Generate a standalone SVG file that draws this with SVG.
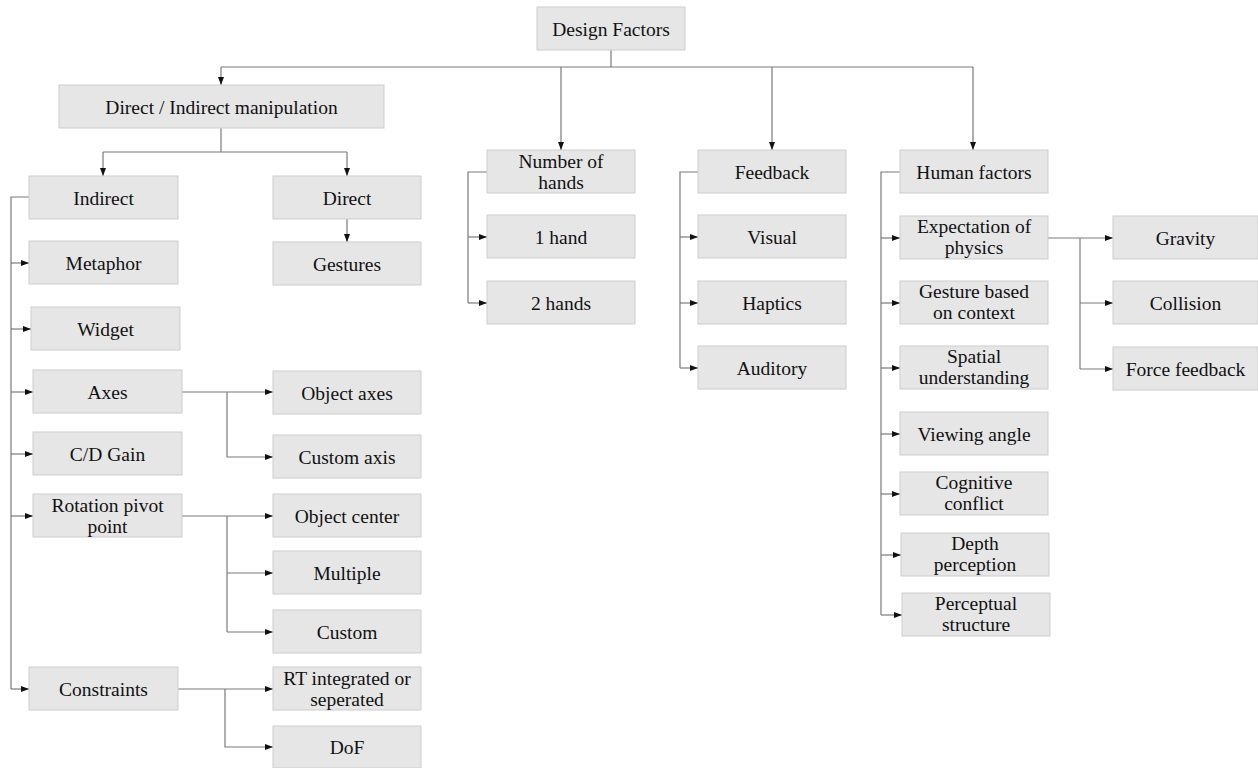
<svg xmlns="http://www.w3.org/2000/svg" width="1258" height="768" viewBox="0 0 1258 768">
<style>
.n rect{fill:#e6e6e6;stroke:#cdcdcd;stroke-width:1}
.n text{font-family:"Liberation Serif","Times New Roman",serif;font-size:19.5px;fill:#111;text-anchor:middle}
.c path{fill:none;stroke:#7a7a7a;stroke-width:1.2}
.c path.a{marker-end:url(#ah)}
</style>
<defs>
<marker id="ah" viewBox="0 0 8 8" refX="8" refY="4" markerWidth="8" markerHeight="8" markerUnits="userSpaceOnUse" orient="auto">
<path d="M0,1 L8,4 L0,7 z" fill="#111"/>
</marker>
</defs>
<rect width="1258" height="768" fill="#fff"/>
<g class="c">
<path d="M611,50 V67 M221,67 H973"/>
<path class="a" d="M221,67 V85"/>
<path class="a" d="M561,67 V150"/>
<path class="a" d="M772,67 V150"/>
<path class="a" d="M973,67 V150"/>
<path d="M221,128 V152 M103,152 H347"/>
<path class="a" d="M103,152 V176"/>
<path class="a" d="M347,152 V176"/>
<path class="a" d="M347,219 V242"/>
<path d="M29,197 H11 V689"/>
<path class="a" d="M11,263 H29"/>
<path class="a" d="M11,329 H31"/>
<path class="a" d="M11,392 H33"/>
<path class="a" d="M11,454 H33"/>
<path class="a" d="M11,516 H33"/>
<path class="a" d="M11,689 H29"/>
<path class="a" d="M182,392 H273"/>
<path class="a" d="M227,392 V457 H273"/>
<path class="a" d="M182,516 H273"/>
<path d="M227,516 V632"/>
<path class="a" d="M227,573 H273"/>
<path class="a" d="M227,632 H273"/>
<path class="a" d="M178,689 H273"/>
<path class="a" d="M225,689 V747 H273"/>
<path d="M487,172 H468 V303"/>
<path class="a" d="M468,237 H487"/>
<path class="a" d="M468,303 H487"/>
<path d="M698,172 H680 V368"/>
<path class="a" d="M680,237 H698"/>
<path class="a" d="M680,303 H698"/>
<path class="a" d="M680,368 H698"/>
<path d="M900,172 H881 V615"/>
<path class="a" d="M881,238 H900"/>
<path class="a" d="M881,303 H900"/>
<path class="a" d="M881,368 H900"/>
<path class="a" d="M881,434 H900"/>
<path class="a" d="M881,494 H900"/>
<path class="a" d="M881,555 H901"/>
<path class="a" d="M881,615 H902"/>
<path class="a" d="M1048,238 H1113"/>
<path d="M1080,238 V369"/>
<path class="a" d="M1080,303 H1113"/>
<path class="a" d="M1080,369 H1113"/>
</g>
<g id="design-factors" class="n"><rect x="537" y="7" width="148" height="43"/><text x="611" y="36">Design Factors</text></g>
<g id="direct-indirect" class="n"><rect x="59" y="85" width="325" height="43"/><text x="221.5" y="114">Direct / Indirect manipulation</text></g>
<g id="indirect" class="n"><rect x="29" y="176" width="149" height="43"/><text x="103.5" y="205">Indirect</text></g>
<g id="direct" class="n"><rect x="273" y="176" width="148" height="43"/><text x="347" y="205">Direct</text></g>
<g id="gestures" class="n"><rect x="273" y="242" width="148" height="43"/><text x="347" y="271">Gestures</text></g>
<g id="metaphor" class="n"><rect x="29" y="241" width="149" height="43"/><text x="103.5" y="270">Metaphor</text></g>
<g id="widget" class="n"><rect x="31" y="307" width="149" height="43"/><text x="105.5" y="336">Widget</text></g>
<g id="axes" class="n"><rect x="33" y="370" width="149" height="43"/><text x="107.5" y="399">Axes</text></g>
<g id="cd-gain" class="n"><rect x="33" y="432" width="149" height="43"/><text x="107.5" y="461">C/D Gain</text></g>
<g id="rotation-pivot" class="n"><rect x="33" y="494" width="149" height="43"/><text x="107.5" y="512">Rotation pivot</text><text x="107.5" y="533">point</text></g>
<g id="constraints" class="n"><rect x="29" y="667" width="149" height="43"/><text x="103.5" y="696">Constraints</text></g>
<g id="object-axes" class="n"><rect x="273" y="371" width="148" height="43"/><text x="347" y="400">Object axes</text></g>
<g id="custom-axis" class="n"><rect x="273" y="435" width="148" height="43"/><text x="347" y="464">Custom axis</text></g>
<g id="object-center" class="n"><rect x="273" y="494" width="148" height="43"/><text x="347" y="523">Object center</text></g>
<g id="multiple" class="n"><rect x="273" y="551" width="148" height="43"/><text x="347" y="580">Multiple</text></g>
<g id="custom" class="n"><rect x="273" y="610" width="148" height="43"/><text x="347" y="639">Custom</text></g>
<g id="rt-integrated" class="n"><rect x="273" y="667" width="148" height="43"/><text x="347" y="685">RT integrated or</text><text x="347" y="706">seperated</text></g>
<g id="dof" class="n"><rect x="273" y="726" width="148" height="42"/><text x="347" y="754">DoF</text></g>
<g id="number-of-hands" class="n"><rect x="487" y="150" width="148" height="43"/><text x="561" y="168">Number of</text><text x="561" y="189">hands</text></g>
<g id="one-hand" class="n"><rect x="487" y="215" width="148" height="43"/><text x="561" y="244">1 hand</text></g>
<g id="two-hands" class="n"><rect x="487" y="281" width="148" height="43"/><text x="561" y="310">2 hands</text></g>
<g id="feedback" class="n"><rect x="698" y="150" width="148" height="43"/><text x="772" y="179">Feedback</text></g>
<g id="visual" class="n"><rect x="698" y="215" width="148" height="43"/><text x="772" y="244">Visual</text></g>
<g id="haptics" class="n"><rect x="698" y="281" width="148" height="43"/><text x="772" y="310">Haptics</text></g>
<g id="auditory" class="n"><rect x="698" y="346" width="148" height="43"/><text x="772" y="375">Auditory</text></g>
<g id="human-factors" class="n"><rect x="900" y="150" width="148" height="43"/><text x="974" y="179">Human factors</text></g>
<g id="expectation" class="n"><rect x="900" y="216" width="148" height="43"/><text x="974" y="233">Expectation of</text><text x="974" y="254">physics</text></g>
<g id="gesture-context" class="n"><rect x="900" y="281" width="148" height="43"/><text x="974" y="298">Gesture based</text><text x="974" y="319">on context</text></g>
<g id="spatial" class="n"><rect x="900" y="346" width="148" height="43"/><text x="974" y="363">Spatial</text><text x="974" y="384">understanding</text></g>
<g id="viewing-angle" class="n"><rect x="900" y="412" width="148" height="43"/><text x="974" y="441">Viewing angle</text></g>
<g id="cognitive" class="n"><rect x="900" y="472" width="148" height="43"/><text x="974" y="489">Cognitive</text><text x="974" y="510">conflict</text></g>
<g id="depth" class="n"><rect x="901" y="533" width="148" height="43"/><text x="975" y="550">Depth</text><text x="975" y="571">perception</text></g>
<g id="perceptual" class="n"><rect x="902" y="593" width="148" height="43"/><text x="976" y="610">Perceptual</text><text x="976" y="631">structure</text></g>
<g id="gravity" class="n"><rect x="1113" y="216" width="145" height="43"/><text x="1185.5" y="245">Gravity</text></g>
<g id="collision" class="n"><rect x="1113" y="281" width="145" height="43"/><text x="1185.5" y="310">Collision</text></g>
<g id="force-feedback" class="n"><rect x="1113" y="347" width="145" height="43"/><text x="1185.5" y="376">Force feedback</text></g>
</svg>
